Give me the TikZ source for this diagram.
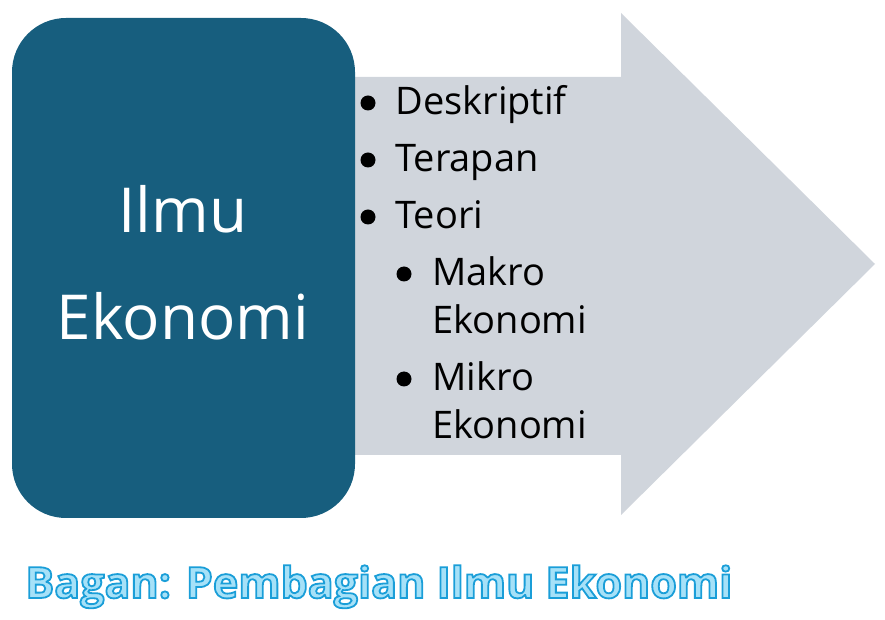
\documentclass[tikz,border=0pt]{standalone}
\usepackage{fontspec}
\setmainfont{Open Sans}
\definecolor{darkteal}{RGB}{23,94,126}
\definecolor{lightgrey}{RGB}{208,213,220}
\definecolor{capfill}{RGB}{166,225,248}
% outlined text: fill in current colour, stroke in blue line colour
\newcommand{\outlinetext}[1]{\special{pdf:literal direct 2 Tr 0.9 w 0.102 0.62 0.847 RG}#1\special{pdf:literal direct 0 Tr}}
\tikzset{
  itemtext/.style={anchor=base west,inner sep=0pt,font=\fontsize{19}{23}\selectfont},
  bigtext/.style={anchor=base,inner sep=0pt,text=white,font=\fontsize{31}{37}\selectfont},
  dot/.style={circle,fill=black,inner sep=0pt,minimum size=7.5pt},
}

\begin{document}
\begin{tikzpicture}[x=0.5pt,y=-0.5pt]
\useasboundingbox (0,0) rectangle (885,620);
% grey arrow
\fill[lightgrey] (300,77) -- (621,77) -- (621,13) -- (875,264) -- (621,515) -- (621,455) -- (300,455) -- cycle;
% teal box
\fill[darkteal,rounded corners=27pt] (12,18) rectangle (355,518);
\node[bigtext] (ilmu) at (183,233) {Ilmu};
\node[bigtext] (ekonomi) at (183,340) {Ekonomi};
%
% list
%
\node[dot] (b1) at (368,103) {};
\node[itemtext] (deskriptif) at (395,115) {Deskriptif};
\node[dot] (b2) at (368,160) {};
\node[itemtext] (terapan) at (395,172) {Terapan};
\node[dot] (b3) at (368,217) {};
\node[itemtext] (teori) at (395,229) {Teori};
%
\node[dot] (b4) at (404,274) {};
\node[itemtext] (makro) at (432,286) {Makro};
\node[itemtext] (makroek) at (432,334) {Ekonomi};
\node[dot] (b5) at (404,379) {};
\node[itemtext] (mikro) at (432,391) {Mikro};
\node[itemtext] (mikroek) at (432,439) {Ekonomi};
%
% caption
%
\node[anchor=base west,inner sep=0pt,text=capfill,font=\bfseries\fontsize{21.5}{26}\selectfont] (caption) at (25,598) {\outlinetext{Bagan: Pembagian Ilmu Ekonomi}};
\end{tikzpicture}
\end{document}
